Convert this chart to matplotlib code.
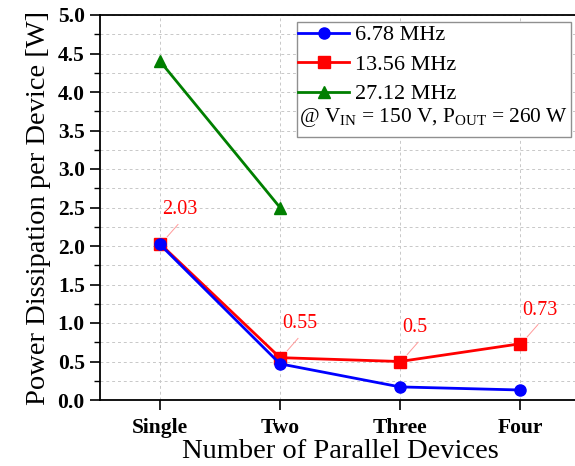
import matplotlib
matplotlib.use("Agg")
import matplotlib.pyplot as plt
from matplotlib.patches import Rectangle
from matplotlib.ticker import MultipleLocator

plt.rcParams['font.family'] = ['Liberation Serif', 'DejaVu Serif']
plt.rcParams['mathtext.fontset'] = 'custom'
plt.rcParams['mathtext.rm'] = 'Liberation Serif'

categories = ['Single', 'Two', 'Three', 'Four']
p_678 = [2.02, 0.47, 0.17, 0.13]
p_1356 = [2.03, 0.55, 0.50, 0.73]
p_2712 = [4.40, 2.50]
labels_1356 = ['2.03', '0.55', '0.5', '0.73']

fig = plt.figure(figsize=(5.75, 4.66), dpi=100)
ax = fig.add_axes([100 / 575, 66 / 466, 480 / 575, 385 / 466])

x = list(range(len(categories)))
ax.plot(x, p_678, color='blue', lw=2, marker='o', ms=8, label='6.78 MHz', zorder=4)
ax.plot(x, p_1356, color='red', lw=2, marker='s', ms=8, label='13.56 MHz', zorder=3)
ax.plot(x[:len(p_2712)], p_2712, color='#007f00', lw=2, marker='^', ms=9,
        label='27.12 MHz', zorder=3)

# value labels for 13.56 MHz with thin leader lines
for xi, yi, s in zip(x, p_1356, labels_1356):
    ax.plot([xi + 0.06, xi + 0.15], [yi + 0.09, yi + 0.25], color='#ff9a9a',
            lw=0.7, zorder=2)
    ax.text(xi + 0.02, yi + 0.38, s, color='red', fontsize=14.5,
            ha='left', va='baseline')

ax.set_xlim(-0.5, 3.5)
ax.set_ylim(0, 5.0)
ax.set_xticks(x)
ax.set_xticklabels(categories, fontweight='bold', fontsize=15.5)
ax.yaxis.set_major_locator(MultipleLocator(0.5))
ax.yaxis.set_minor_locator(MultipleLocator(0.25))
ax.yaxis.set_major_formatter(plt.FormatStrFormatter('%.1f'))
for lab in ax.get_yticklabels():
    lab.set_fontweight('bold')
    lab.set_fontsize(15.5)
ax.tick_params(axis='both', which='major', direction='out', length=7, width=1.2, pad=4)
ax.tick_params(axis='y', which='minor', direction='out', length=4, width=1.0)
ax.tick_params(axis='x', pad=6)

ax.grid(True, which='both', axis='y', color='#c8c8c8', ls=(0, (3, 3)), lw=0.7)
ax.grid(True, which='major', axis='x', color='#c8c8c8', ls=(0, (3, 3)), lw=0.7)
ax.set_axisbelow(True)
for sp in ax.spines.values():
    sp.set_linewidth(1.3)

ax.set_xlabel('Number of Parallel Devices', fontsize=20.5, labelpad=1)
ax.set_ylabel('Power Dissipation per Device [W]', fontsize=20.5, labelpad=5)

# legend box with an extra condition line
ax.add_patch(Rectangle((0.410, 0.683), 0.571, 0.299, transform=ax.transAxes,
                       facecolor='white', edgecolor='#909090', lw=1.0, zorder=5))
leg = ax.legend(loc='upper left', bbox_to_anchor=(0.408, 0.98), frameon=False,
                fontsize=16, handlelength=2.3, handletextpad=0.25,
                labelspacing=0.4, borderaxespad=0, borderpad=0.1)
leg.set_zorder(6)
ax.text(0.415, 0.733, r'@ V$_{\mathrm{IN}}$ = 150 V, P$_{\mathrm{OUT}}$ = 260 W',
        transform=ax.transAxes, fontsize=15.4, ha='left', va='center', zorder=7)

fig.savefig('out.png', dpi=100)
